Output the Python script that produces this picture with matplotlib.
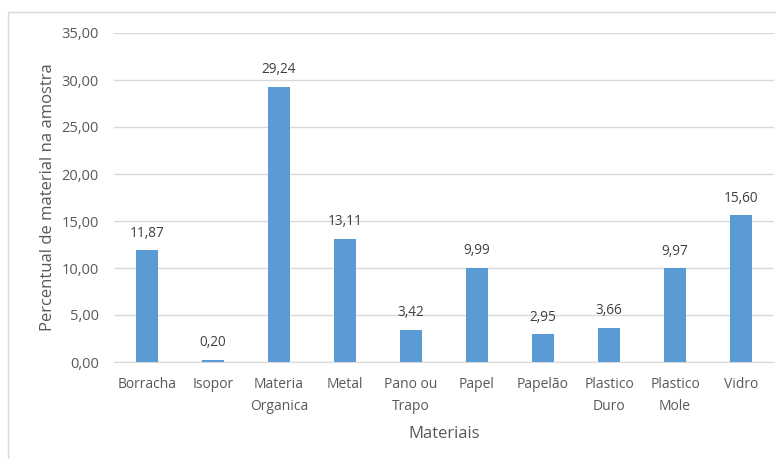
import matplotlib
matplotlib.use("Agg")
import matplotlib.pyplot as plt
from matplotlib.patches import Rectangle

categories = ["Borracha", "Isopor", "Materia\nOrganica", "Metal", "Pano ou\nTrapo",
              "Papel", "Papelão", "Plastico\nDuro", "Plastico\nMole", "Vidro"]
values = [11.87, 0.20, 29.24, 13.11, 3.42, 9.99, 2.95, 3.66, 9.97, 15.60]
yticks = [0, 5, 10, 15, 20, 25, 30, 35]

plt.rcParams['font.family'] = ['Open Sans', 'DejaVu Sans']
txt = '#595959'

fig = plt.figure(figsize=(7.76, 4.59), dpi=100)
fig.patch.set_facecolor('white')
# chart border
fig.patches.append(Rectangle((8/776, -0.1), 1.2, (1 - 12/459) + 0.1, transform=fig.transFigure,
                             fill=False, edgecolor='#d9d9d9', linewidth=1.0))

ax = fig.add_axes([114/776, 1 - 362/459, 660/776, (362 - 33)/459])
x = range(len(categories))
bars = ax.bar(x, values, width=0.34, color='#5B9BD5', zorder=3)
ax.set_xlim(-0.5, len(categories) - 0.5)
ax.set_ylim(0, 35)
ax.set_yticks(yticks)
ax.set_yticklabels([f"{v:.2f}".replace('.', ',') for v in yticks], color=txt, fontsize=10.5)
ax.set_xticks(list(x))
ax.set_xticklabels(categories, color=txt, fontsize=10, linespacing=1.6)
ax.tick_params(axis='both', length=0)
ax.tick_params(axis='y', pad=11)
ax.tick_params(axis='x', pad=11)
ax.grid(axis='y', color='#d9d9d9', linewidth=1.0, zorder=0)
for s in ['top', 'right', 'left']:
    ax.spines[s].set_visible(False)
ax.spines['bottom'].set_color('#d9d9d9')

for xi, v in zip(x, values):
    ax.annotate(f"{v:.2f}".replace('.', ','), (xi, v), xytext=(0, 7), textcoords='offset points',
                ha='center', va='bottom', color='#404040', fontsize=9.8)

ax.set_ylabel("Percentual de material na amostra", color=txt, fontsize=12)
ax.yaxis.set_label_coords(-0.088, 0.5)
ax.set_xlabel("Materiais", color=txt, fontsize=12)
ax.xaxis.set_label_coords(0.5, -0.195)

fig.savefig("out.png", dpi=100)
